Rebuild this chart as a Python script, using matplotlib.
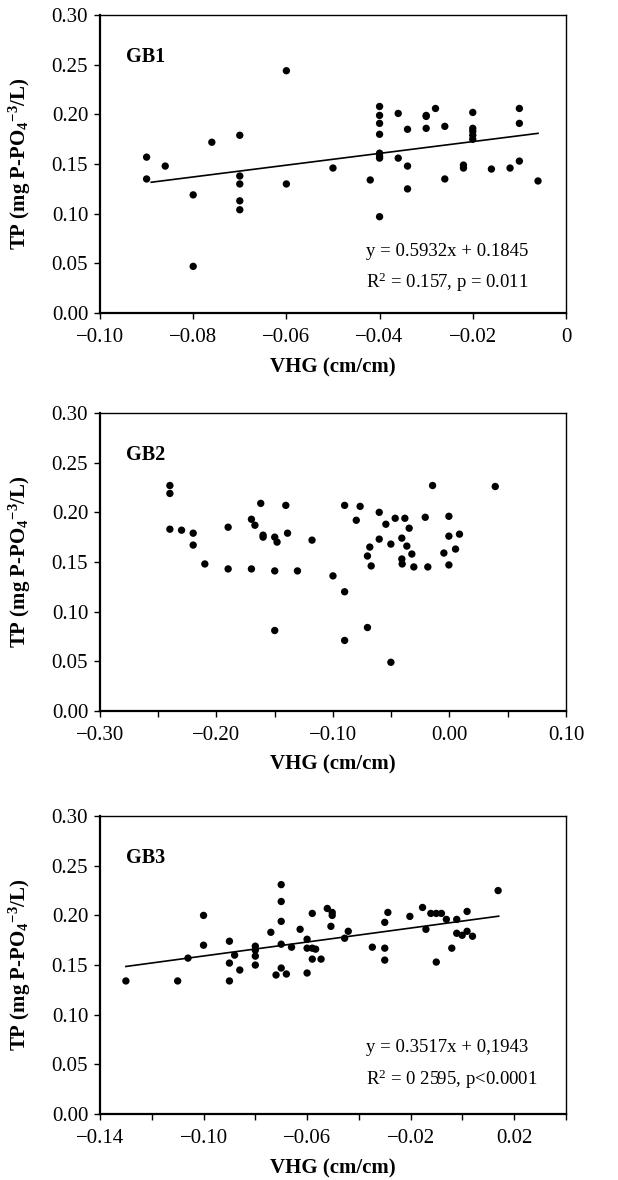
import numpy as np
import matplotlib
matplotlib.use("Agg")
import matplotlib.pyplot as plt
from matplotlib.ticker import FixedLocator, FixedFormatter, MultipleLocator, FormatStrFormatter

plt.rcParams['font.family'] = ['Liberation Serif', 'DejaVu Serif']
plt.rcParams['mathtext.default'] = 'regular'

# GB1
gb1_x = [-0.09, -0.09, -0.086, -0.08, -0.08, -0.076, -0.07, -0.07, -0.07, -0.07, -0.07,
         -0.06, -0.06, -0.05, -0.042, -0.04, -0.04, -0.04, -0.04, -0.04, -0.04, -0.04, -0.04,
         -0.036, -0.036, -0.034, -0.034, -0.034, -0.03, -0.03, -0.03, -0.028, -0.026, -0.026,
         -0.022, -0.022, -0.02, -0.02, -0.02, -0.02, -0.02, -0.016, -0.012, -0.01, -0.01,
         -0.01, -0.006]
gb1_y = [0.157, 0.135, 0.148, 0.119, 0.047, 0.172, 0.179, 0.138, 0.130, 0.113, 0.104,
         0.244, 0.130, 0.146, 0.134, 0.208, 0.199, 0.191, 0.180, 0.161, 0.158, 0.156, 0.097,
         0.201, 0.156, 0.185, 0.148, 0.125, 0.199, 0.198, 0.186, 0.206, 0.188, 0.135,
         0.149, 0.146, 0.202, 0.186, 0.183, 0.179, 0.175, 0.145, 0.146, 0.206, 0.191,
         0.153, 0.133]
gb1_fit = (0.5932, 0.1845, -0.089, -0.006)

# GB2
gb2_x = [-0.24, -0.24, -0.24, -0.23, -0.22, -0.22, -0.21, -0.19, -0.19, -0.17, -0.17,
         -0.167, -0.162, -0.16, -0.16, -0.15, -0.15, -0.15, -0.148, -0.1405, -0.139,
         -0.1305, -0.118, -0.10, -0.09, -0.09, -0.09, -0.08, -0.0767, -0.0704, -0.0704,
         -0.0684, -0.0672, -0.0603, -0.0603, -0.0546, -0.0503, -0.0503, -0.0466, -0.0409,
         -0.0409, -0.0406, -0.0383, -0.0366, -0.0346, -0.0323, -0.0306, -0.0208, -0.0186,
         -0.0145, -0.0048, -0.0005, -0.0005, -0.0005, 0.0052, 0.0086, 0.0393]
gb2_y = [0.227, 0.219, 0.183, 0.182, 0.179, 0.167, 0.148, 0.185, 0.143, 0.193, 0.143,
         0.187, 0.209, 0.177, 0.175, 0.175, 0.141, 0.081, 0.170, 0.207, 0.179,
         0.141, 0.172, 0.136, 0.207, 0.120, 0.071, 0.192, 0.206, 0.156, 0.084,
         0.165, 0.146, 0.200, 0.173, 0.188, 0.168, 0.049, 0.194, 0.174,
         0.153, 0.148, 0.194, 0.166, 0.184, 0.158, 0.145, 0.195, 0.145,
         0.227, 0.159, 0.196, 0.176, 0.147, 0.163, 0.178, 0.226]

# GB3
gb3_x = [-0.13, -0.11, -0.106, -0.10, -0.10, -0.09, -0.09, -0.09, -0.088, -0.086,
         -0.08, -0.08, -0.08, -0.08, -0.074, -0.072, -0.07, -0.07, -0.07, -0.07, -0.07,
         -0.068, -0.066, -0.0627, -0.06, -0.06, -0.06, -0.058, -0.058, -0.058, -0.0567,
         -0.0546, -0.0522, -0.0508, -0.0503, -0.0503, -0.0455, -0.0441, -0.0348, -0.03,
         -0.03, -0.03, -0.0288, -0.0203, -0.0154, -0.0141, -0.0122, -0.0101, -0.0101,
         -0.0081, -0.0062, -0.0041, -0.0022, -0.0022, -0.0001, 0.0018, 0.0018, 0.0039,
         0.0138]
gb3_y = [0.134, 0.134, 0.157, 0.200, 0.170, 0.174, 0.152, 0.134, 0.160, 0.145,
         0.169, 0.165, 0.159, 0.150, 0.183, 0.140, 0.231, 0.214, 0.194, 0.171, 0.147,
         0.141, 0.168, 0.186, 0.176, 0.167, 0.142, 0.202, 0.167, 0.156, 0.166,
         0.156, 0.207, 0.189, 0.203, 0.200, 0.177, 0.184, 0.168, 0.193,
         0.167, 0.155, 0.203, 0.199, 0.208, 0.186, 0.202, 0.202, 0.153,
         0.202, 0.196, 0.167, 0.196, 0.182, 0.180, 0.204, 0.184, 0.179,
         0.225]
gb3_fit = (0.3517, 0.1943, -0.13, 0.014)

fig = plt.figure(figsize=(6.18, 11.8), dpi=100)
left, width, height = 0.1618, 0.754, 0.2525
bottoms = [0.7347, 0.3975, 0.0559]

panels = [
    dict(name='GB1', x=gb1_x, y=gb1_y, fit=gb1_fit, xlim=(-0.10, 0.0),
         ticks=[-0.10, -0.08, -0.06, -0.04, -0.02, 0.0],
         labels=['\u22120.10', '\u22120.08', '\u22120.06', '\u22120.04', '\u22120.02', '0'],
         minor=None,
         eq=['y = 0.5932x + 0.1845', 'R$^2$ = 0.157, p = 0.011'], eqy=(0.205, 0.104)),
    dict(name='GB2', x=gb2_x, y=gb2_y, fit=None, xlim=(-0.30, 0.10),
         ticks=[-0.30, -0.20, -0.10, 0.0, 0.10],
         labels=['\u22120.30', '\u22120.20', '\u22120.10', '0.00', '0.10'],
         minor=0.05, eq=None, eqy=None),
    dict(name='GB3', x=gb3_x, y=gb3_y, fit=gb3_fit, xlim=(-0.14, 0.04),
         ticks=[-0.14, -0.10, -0.06, -0.02, 0.02],
         labels=['\u22120.14', '\u22120.10', '\u22120.06', '\u22120.02', '0.02'],
         minor=0.02,
         eq=['y = 0.3517x + 0,1943', 'R$^2$ = 0 2595, p<0.0001'], eqy=(0.222, 0.118)),
]

for p, b in zip(panels, bottoms):
    ax = fig.add_axes([left, b, width, height])
    ax.scatter(p['x'], p['y'], s=28, color='black', zorder=3, edgecolor='none')
    if p['fit'] is not None:
        m, c, x0, x1 = p['fit']
        xs = np.array([x0, x1])
        ax.plot(xs, m * xs + c, color='black', linewidth=1.2)
    ax.set_xlim(*p['xlim'])
    ax.set_ylim(0, 0.30)
    ax.xaxis.set_major_locator(FixedLocator(p['ticks']))
    ax.xaxis.set_major_formatter(FixedFormatter(p['labels']))
    if p['minor']:
        ax.xaxis.set_minor_locator(MultipleLocator(p['minor']))
    ax.yaxis.set_major_locator(MultipleLocator(0.05))
    ax.yaxis.set_major_formatter(FormatStrFormatter('%.2f'))
    ax.tick_params(direction='out', length=4.5, width=1, labelsize=15, top=False, right=False)
    ax.tick_params(axis='y', pad=4)
    ax.tick_params(axis='x', pad=6.5)
    ax.tick_params(which='minor', direction='out', length=4.5, width=1)
    for s in ['left', 'bottom']:
        ax.spines[s].set_linewidth(1.6)
    for s in ['top', 'right']:
        ax.spines[s].set_linewidth(1.0)
    ax.text(0.055, 0.86, p['name'], transform=ax.transAxes, fontsize=14.5,
            fontweight='bold', va='center')
    if p['eq']:
        for t, yy in zip(p['eq'], p['eqy']):
            ax.text(0.571, yy, t, transform=ax.transAxes, fontsize=13.5, va='center')
    ax.set_xlabel('VHG (cm/cm)', fontsize=15, fontweight='bold', labelpad=7)
    ax.set_ylabel('TP (mg P-PO$_4$$^{\u22123}$/L)', fontsize=15, fontweight='bold')
    ax.yaxis.set_label_coords(-0.143, 0.5)

fig.savefig('out.png', dpi=100)
